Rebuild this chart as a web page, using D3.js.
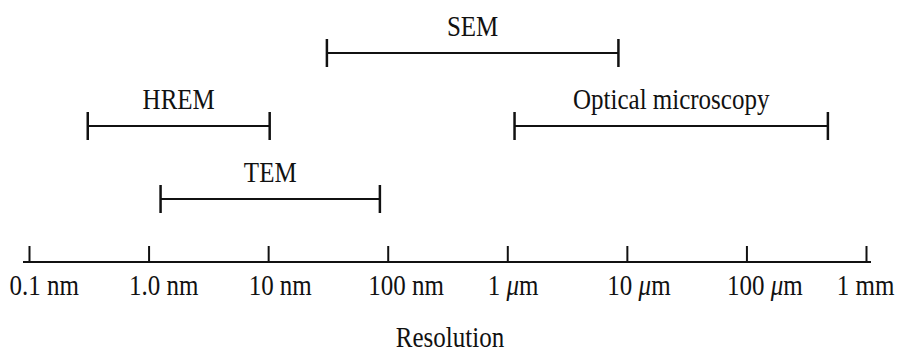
<meta charset="utf-8">
<style>
  body { margin: 0; background: #fff; }
  text { font-family: "Liberation Serif", "Times New Roman", serif; fill: #111; }
</style>
<svg width="900" height="354"></svg>
<script src="https://d3js.org/d3.v7.min.js"></script>
<script>
// resolution ranges, in nm
var techniques = ["SEM", "HREM", "Optical microscopy", "TEM"];
var rangeLow  = [31, 0.31, 1150, 1.26];
var rangeHigh = [8500, 10.3, 480000, 86];
var rows      = [0, 1, 1, 2];

var tickValues = [0.1, 1, 10, 100, 1000, 10000, 100000, 1000000];
var tickLabels = ["0.1 nm", "1.0 nm", "10 nm", "100 nm", "1 \u03bcm", "10 \u03bcm", "100 \u03bcm", "1 mm"];

var svg = d3.select("svg");
var axisY = 262;
var fontSize = 25;
var stretch = "scale(1,1.17)";   // the scanned type is a little tall

var x = d3.scaleLog()
    .domain([0.1, 1000000])
    .range([29, 866]);

var y = d3.scalePoint()
    .domain([0, 1, 2])
    .range([53, 199]);

// axis
var axis = d3.axisBottom(x)
    .tickValues(tickValues)
    .tickFormat(function(d, i) { return tickLabels[i]; })
    .tickSizeInner(-16)
    .tickSizeOuter(0);

var gAxis = svg.append("g")
    .attr("transform", "translate(0," + axisY + ")")
    .call(axis);

gAxis.select(".domain").remove();
gAxis.selectAll(".tick line")
    .attr("stroke", "#111")
    .attr("stroke-width", 2);

gAxis.append("line")
    .attr("x1", x.range()[0] - 6)
    .attr("x2", x.range()[1] + 5)
    .attr("stroke", "#111")
    .attr("stroke-width", 2);

gAxis.selectAll(".tick text").each(function(d, i) {
  var t = d3.select(this);
  var parts = tickLabels[i].split("\u03bc");
  t.text(null)
    .attr("y", 0).attr("dy", null)
    .attr("text-anchor", "start")
    .attr("font-size", fontSize)
    .attr("fill", "#111");
  t.append("tspan").text(parts[0]);
  if (parts.length > 1) {
    t.append("tspan").attr("font-style", "italic").text("\u03bc");
    t.append("tspan").text(parts[1]);
  }
  // keep the last label inside the picture
  var dx = -20;
  var w = this.getComputedTextLength();
  if (x(d) + dx + w > 894) dx = 894 - w - x(d);
  t.attr("transform", "translate(" + dx + ",33) " + stretch);
});

svg.append("text")
    .attr("text-anchor", "middle")
    .attr("font-size", fontSize)
    .attr("transform", "translate(450,347) " + stretch)
    .text("Resolution");

// range bars
var bars = svg.append("g").selectAll("g")
  .data(techniques)
  .enter().append("g")
    .attr("transform", function(d, i) { return "translate(0," + y(rows[i]) + ")"; });

bars.append("line")
    .attr("x1", function(d, i) { return x(rangeLow[i]); })
    .attr("x2", function(d, i) { return x(rangeHigh[i]); })
    .attr("stroke", "#111")
    .attr("stroke-width", 2);

bars.append("line")
    .attr("x1", function(d, i) { return x(rangeLow[i]); })
    .attr("x2", function(d, i) { return x(rangeLow[i]); })
    .attr("y1", -14).attr("y2", 14)
    .attr("stroke", "#111")
    .attr("stroke-width", 2.5);

bars.append("line")
    .attr("x1", function(d, i) { return x(rangeHigh[i]); })
    .attr("x2", function(d, i) { return x(rangeHigh[i]); })
    .attr("y1", -14).attr("y2", 14)
    .attr("stroke", "#111")
    .attr("stroke-width", 2.5);

bars.append("text")
    .attr("text-anchor", "middle")
    .attr("font-size", fontSize)
    .attr("transform", function(d, i) {
      var cx = (x(rangeLow[i]) + x(rangeHigh[i])) / 2;
      return "translate(" + cx + ",-17) " + stretch;
    })
    .text(function(d) { return d; });
</script>
